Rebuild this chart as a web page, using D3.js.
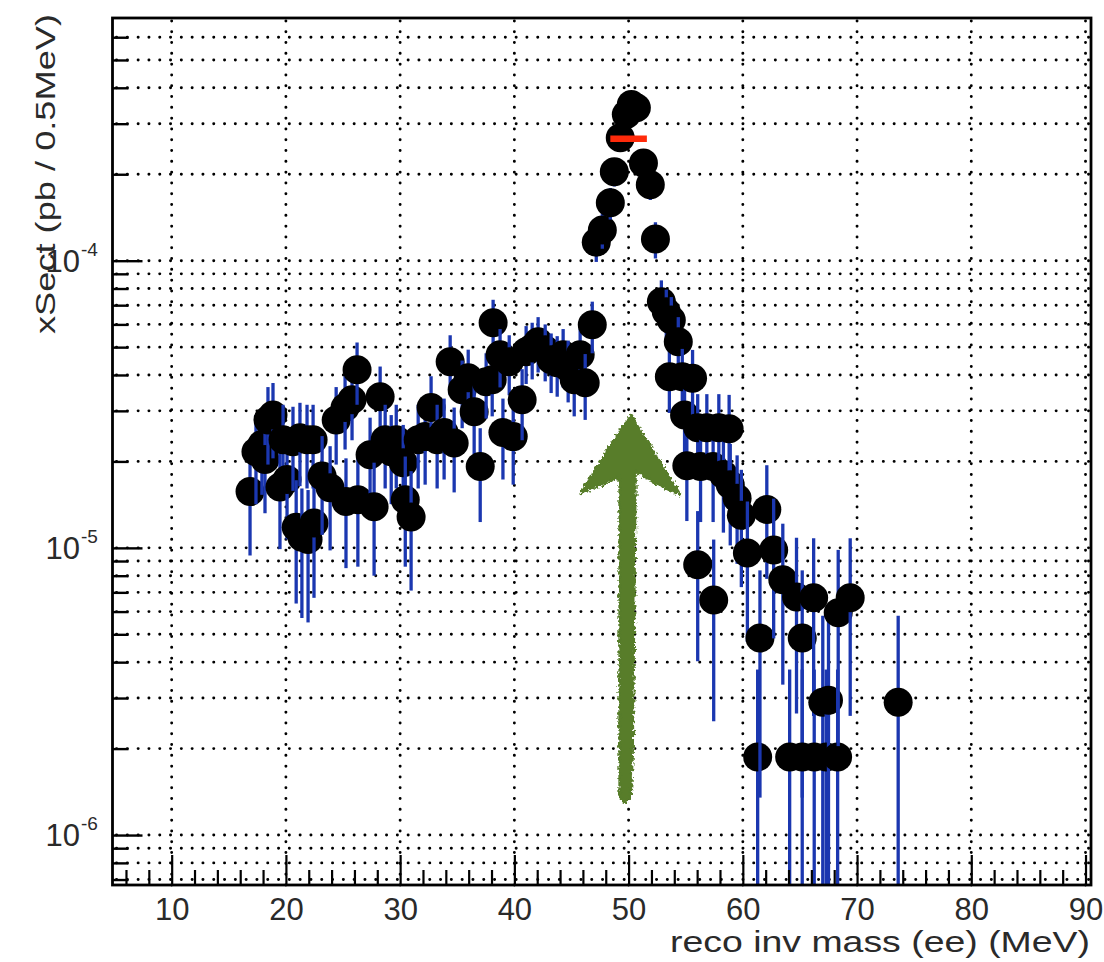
<!DOCTYPE html>
<html>
<head>
<meta charset="utf-8">
<script src="https://cdn.jsdelivr.net/npm/d3@7"></script>
<style>
  html, body { margin: 0; padding: 0; background: #fff; }
  svg { display: block; }
  text { font-family: "Liberation Sans", Arial, Helvetica, sans-serif; }
</style>
</head>
<body>
<svg id="chart" width="1104" height="962"></svg>
<script>
// Reconstructed e+e- invariant mass points (MeV) with cross section per 0.5 MeV bin (pb)
const mass = [
  16.86, 17.38, 17.90, 18.17, 18.43, 18.87, 19.48, 19.75, 20.10, 20.62,
  20.90, 21.23, 21.40, 21.85, 21.94, 22.38, 22.46, 23.17, 23.87, 24.40,
  25.18, 25.26, 25.79, 26.23, 26.30, 27.37, 27.72, 28.25, 28.69, 29.22,
  29.66, 30.27, 30.45, 30.96, 31.58, 32.19, 32.71, 33.24, 33.85, 34.38,
  34.73, 35.43, 35.96, 36.48, 37.01, 37.53, 38.06, 38.14, 38.75, 39.00,
  39.55, 39.90, 40.68, 41.03, 41.56, 42.08, 42.70, 43.22, 43.75, 44.27,
  44.71, 45.24, 45.76, 46.20, 46.82, 47.17, 47.70, 48.40, 48.75, 49.27,
  49.80, 50.24, 50.68, 51.30, 51.90, 52.35, 52.87, 53.30, 53.57, 53.74,
  54.35, 54.70, 54.90, 55.10, 55.60, 56.05, 56.05, 56.30, 56.85, 57.40,
  57.45, 57.90, 58.30, 58.80, 58.90, 59.50, 59.87, 60.40, 61.30, 61.50,
  62.10, 62.70, 63.50, 64.10, 64.70, 65.20, 65.20, 66.20, 66.25, 67.00,
  67.30, 67.50, 68.30, 68.35, 69.40, 73.60
];
const xsec = [
  1.57e-5, 2.16e-5, 2.29e-5, 2.03e-5, 2.79e-5, 2.90e-5, 1.63e-5, 2.38e-5, 1.73e-5, 2.34e-5,
  1.18e-5, 2.42e-5, 1.09e-5, 2.38e-5, 1.07e-5, 2.38e-5, 1.22e-5, 1.78e-5, 1.62e-5, 2.79e-5,
  3.08e-5, 1.45e-5, 3.28e-5, 4.17e-5, 1.47e-5, 2.11e-5, 1.39e-5, 3.36e-5, 2.38e-5, 2.16e-5,
  2.38e-5, 1.98e-5, 1.47e-5, 1.28e-5, 2.38e-5, 2.44e-5, 3.08e-5, 2.38e-5, 2.52e-5, 4.45e-5,
  2.32e-5, 3.55e-5, 3.91e-5, 2.98e-5, 1.92e-5, 3.79e-5, 3.85e-5, 6.08e-5, 4.70e-5, 2.52e-5,
  4.45e-5, 2.44e-5, 3.28e-5, 4.82e-5, 4.97e-5, 5.22e-5, 4.90e-5, 4.52e-5, 4.41e-5, 4.70e-5,
  4.24e-5, 3.85e-5, 4.70e-5, 3.76e-5, 5.98e-5, 1.16e-4, 1.28e-4, 1.59e-4, 2.04e-4, 2.68e-4,
  3.23e-4, 3.50e-4, 3.41e-4, 2.19e-4, 1.84e-4, 1.19e-4, 7.20e-5, 6.64e-5, 3.94e-5, 6.22e-5,
  5.22e-5, 3.94e-5, 2.90e-5, 1.93e-5, 3.90e-5, 2.62e-5, 8.73e-6, 1.92e-5, 2.62e-5, 1.92e-5,
  6.59e-6, 2.62e-5, 1.80e-5, 2.60e-5, 1.66e-5, 1.49e-5, 1.30e-5, 9.60e-6, 1.87e-6, 4.85e-6,
  1.36e-5, 9.84e-6, 7.74e-6, 1.87e-6, 6.75e-6, 4.85e-6, 1.87e-6, 6.70e-6, 1.87e-6, 2.90e-6,
  1.87e-6, 2.95e-6, 1.87e-6, 5.94e-6, 6.70e-6, 2.90e-6
];
const xsecErr = [
  6.3e-6, 7.4e-6, 7.6e-6, 7.1e-6, 8.4e-6, 8.5e-6, 6.4e-6, 7.7e-6, 6.6e-6, 7.6e-6,
  5.4e-6, 7.8e-6, 5.2e-6, 7.7e-6, 5.2e-6, 7.7e-6, 5.5e-6, 6.7e-6, 6.4e-6, 8.4e-6,
  8.8e-6, 6.0e-6, 9.1e-6, 1.02e-5, 6.1e-6, 7.3e-6, 5.9e-6, 9.2e-6, 7.7e-6, 7.4e-6,
  7.7e-6, 7.0e-6, 6.1e-6, 5.7e-6, 7.7e-6, 7.8e-6, 8.8e-6, 7.7e-6, 7.9e-6, 1.05e-5,
  7.6e-6, 9.4e-6, 9.9e-6, 8.6e-6, 6.9e-6, 9.7e-6, 9.8e-6, 1.23e-5, 1.08e-5, 7.9e-6,
  1.05e-5, 7.8e-6, 9.1e-6, 1.10e-5, 1.11e-5, 1.14e-5, 1.10e-5, 1.06e-5, 1.05e-5, 1.08e-5,
  1.03e-5, 9.8e-6, 1.08e-5, 9.7e-6, 1.22e-5, 1.70e-5, 1.80e-5, 2.00e-5, 2.26e-5, 2.60e-5,
  2.84e-5, 2.96e-5, 2.92e-5, 2.34e-5, 2.14e-5, 1.72e-5, 1.34e-5, 1.29e-5, 9.9e-6, 1.25e-5,
  1.14e-5, 9.9e-6, 8.5e-6, 6.9e-6, 9.9e-6, 8.1e-6, 4.7e-6, 6.9e-6, 8.1e-6, 6.9e-6,
  4.1e-6, 8.1e-6, 6.7e-6, 8.1e-6, 6.4e-6, 6.1e-6, 5.7e-6, 4.9e-6, 1.9e-6, 3.5e-6,
  5.8e-6, 5.0e-6, 4.4e-6, 1.9e-6, 4.1e-6, 3.5e-6, 1.9e-6, 4.1e-6, 1.9e-6, 2.9e-6,
  1.9e-6, 2.9e-6, 1.9e-6, 3.9e-6, 4.1e-6, 2.9e-6
];

// Axis ticks and labels
const xMajorTicks = [10, 20, 30, 40, 50, 60, 70, 80, 90];
const xMinorTicks = [6, 8, 12, 14, 16, 18, 22, 24, 26, 28, 32, 34, 36, 38, 42, 44, 46, 48,
                     52, 54, 56, 58, 62, 64, 66, 68, 72, 74, 76, 78, 82, 84, 86, 88];
const yDecades = [1e-6, 1e-5, 1e-4];
const yDecadeExponents = ["-6", "-5", "-4"];
const yMinorMultipliers = [2, 3, 4, 5, 6, 7, 8, 9];
const xTitle = "reco  inv mass (ee) (MeV)";
const yTitle = "xSect (pb / 0.5MeV)";

// Peak marker line and annotation arrow
const peakLineMass = [48.4, 51.6];
const peakLineXsec = 2.66e-4;
const arrowMass = 50;
const arrowTipXsec = 2.9e-5;
const arrowTailXsec = 1.35e-6;

const svg = d3.select("#chart");
const frame = { left: 112.5, right: 1091, top: 18, bottom: 885 };

const x = d3.scaleLinear().domain([4.82, 90.48]).range([frame.left, frame.right]);
const y = d3.scaleLog().domain([6.7e-7, 7e-4]).range([frame.bottom, frame.top]);

svg.append("rect").attr("width", 1104).attr("height", 962).attr("fill", "#fff");

const defs = svg.append("defs");
defs.append("clipPath").attr("id", "plotClip")
  .append("rect")
  .attr("x", frame.left).attr("y", frame.top)
  .attr("width", frame.right - frame.left).attr("height", frame.bottom - frame.top);

const rough = defs.append("filter").attr("id", "rough")
  .attr("x", "-20%").attr("y", "-5%").attr("width", "140%").attr("height", "110%");
rough.append("feTurbulence").attr("type", "fractalNoise")
  .attr("baseFrequency", "0.35").attr("numOctaves", 2).attr("seed", 7).attr("result", "noise");
rough.append("feDisplacementMap").attr("in", "SourceGraphic").attr("in2", "noise")
  .attr("scale", 7).attr("xChannelSelector", "R").attr("yChannelSelector", "G");

// All tick positions on the log axis
const yAllTicks = [];
[1e-7, 1e-6, 1e-5, 1e-4].forEach(d => {
  [1].concat(yMinorMultipliers).forEach(m => {
    const v = +(m * d).toPrecision(3);
    if (v > y.domain()[0] && v < y.domain()[1]) yAllTicks.push(v);
  });
});

// Dotted grid
const grid = svg.append("g").attr("class", "grid")
  .attr("stroke", "#000").attr("stroke-width", 2.9)
  .attr("stroke-linecap", "round").attr("stroke-dasharray", "0.1,10.7");
grid.selectAll("line.h").data(yAllTicks).join("line").attr("class", "h")
  .attr("x1", frame.left + 4).attr("x2", frame.right)
  .attr("y1", d => y(d)).attr("y2", d => y(d));
grid.selectAll("line.v").data(xMajorTicks).join("line").attr("class", "v")
  .attr("x1", d => x(d)).attr("x2", d => x(d))
  .attr("y1", frame.bottom).attr("y2", frame.top);

// Data points: error bar then marker for each point
const plot = svg.append("g").attr("clip-path", "url(#plotClip)");
const pts = mass.map((m, i) => ({ m, v: xsec[i], e: xsecErr[i] }));
const pg = plot.selectAll("g.pt").data(pts).join("g").attr("class", "pt");
pg.append("line")
  .attr("x1", d => x(d.m)).attr("x2", d => x(d.m))
  .attr("y1", d => y(d.v + d.e))
  .attr("y2", d => (d.v - d.e) > y.domain()[0] ? y(d.v - d.e) : frame.bottom + 5)
  .attr("stroke", "#1b37b0").attr("stroke-width", 3.3);
pg.append("circle")
  .attr("cx", d => x(d.m)).attr("cy", d => y(d.v))
  .attr("r", 14.5).attr("fill", "#000");

// Peak line
plot.append("line")
  .attr("x1", x(peakLineMass[0])).attr("x2", x(peakLineMass[1]))
  .attr("y1", y(peakLineXsec)).attr("y2", y(peakLineXsec))
  .attr("stroke", "#ff2a0a").attr("stroke-width", 6.5);

// Hand-drawn annotation arrow
const ax = x(arrowMass), at = y(arrowTipXsec), ab = y(arrowTailXsec);
const arrowPts = [
  [ax + 2, at],
  [ax + 26, at + 38],
  [ax + 52, at + 80],
  [ax + 30, at + 70],
  [ax + 7, at + 56],
  [ax + 4, ab - 40],
  [ax + 2, ab],
  [ax - 4, ab + 5],
  [ax - 9, ab],
  [ax - 9, at + 62],
  [ax - 28, at + 70],
  [ax - 48, at + 78],
  [ax - 22, at + 36]
];
svg.append("path")
  .attr("d", d3.line().curve(d3.curveLinearClosed)(arrowPts))
  .attr("fill", "#587d2c").attr("stroke", "#587d2c").attr("stroke-width", 2.5)
  .attr("stroke-linejoin", "round")
  .attr("filter", "url(#rough)");

// Frame
svg.append("rect")
  .attr("x", frame.left).attr("y", frame.top)
  .attr("width", frame.right - frame.left).attr("height", frame.bottom - frame.top)
  .attr("fill", "none").attr("stroke", "#000").attr("stroke-width", 2.8);

// X axis ticks (pointing into the plot)
const xAxisMajor = d3.axisBottom(x).tickValues(xMajorTicks)
  .tickSizeInner(-30).tickSizeOuter(0).tickPadding(40).tickFormat(d3.format("d"));
const gx = svg.append("g").attr("transform", `translate(0,${frame.bottom})`).call(xAxisMajor);
gx.select(".domain").remove();
gx.selectAll(".tick line").attr("stroke", "#000").attr("stroke-width", 2.2);
gx.selectAll(".tick text")
  .attr("font-size", 31).attr("fill", "#2a2a2a")
  .attr("dy", 0).attr("y", 35)
  .style("font-family", "'Liberation Sans', Arial, sans-serif");

const xAxisMinor = d3.axisBottom(x).tickValues(xMinorTicks)
  .tickSizeInner(-15).tickSizeOuter(0).tickFormat("");
const gxm = svg.append("g").attr("transform", `translate(0,${frame.bottom})`).call(xAxisMinor);
gxm.select(".domain").remove();
gxm.selectAll(".tick line").attr("stroke", "#000").attr("stroke-width", 2.2);

// Y axis ticks (pointing into the plot)
const yAxisMajor = d3.axisLeft(y).tickValues(yDecades)
  .tickSizeInner(-30).tickSizeOuter(0).tickFormat("");
const gy = svg.append("g").attr("transform", `translate(${frame.left},0)`).call(yAxisMajor);
gy.select(".domain").remove();
gy.selectAll(".tick line").attr("stroke", "#000").attr("stroke-width", 2.4);

const yAxisMinor = d3.axisLeft(y).tickValues(yAllTicks.filter(v => !yDecades.includes(v)))
  .tickSizeInner(-16).tickSizeOuter(0).tickFormat("");
const gym = svg.append("g").attr("transform", `translate(${frame.left},0)`).call(yAxisMinor);
gym.select(".domain").remove();
gym.selectAll(".tick line").attr("stroke", "#000").attr("stroke-width", 2.4);

// Decade labels 10^n
const yl = svg.append("g").attr("fill", "#2a2a2a");
yDecades.forEach((d, i) => {
  const t = yl.append("text").attr("y", y(d) + 11).attr("font-size", 31);
  t.append("tspan").attr("x", 80).attr("text-anchor", "end").text("10");
  yl.append("text").attr("x", 81).attr("y", y(d) - 5)
    .attr("font-size", 19).text(yDecadeExponents[i]);
});

// Axis titles
svg.append("text")
  .attr("x", 1090).attr("y", 952)
  .attr("text-anchor", "end").attr("font-size", 29).attr("fill", "#2a2a2a")
  .attr("textLength", 420).attr("lengthAdjust", "spacingAndGlyphs")
  .text(xTitle);

svg.append("text")
  .attr("transform", "translate(55,14) rotate(-90)")
  .attr("text-anchor", "end").attr("font-size", 28).attr("fill", "#2a2a2a")
  .attr("textLength", 320).attr("lengthAdjust", "spacingAndGlyphs")
  .text(yTitle);
</script>
</body>
</html>
